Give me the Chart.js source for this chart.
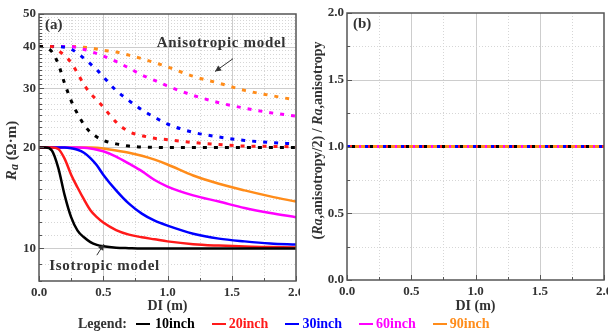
<!DOCTYPE html>
<html>
<head>
<meta charset="utf-8">
<script src="https://cdn.jsdelivr.net/npm/chart.js@4"></script>
<style>
  body { margin: 0; background: #fff; width: 608px; height: 333px; overflow: hidden; position: relative; font-family: "Liberation Serif", serif; }
  #cA { position: absolute; left: 0; top: 0; }
  #cB { position: absolute; left: 304px; top: 0; }
  #legend { position: absolute; left: 78px; top: 314px; height: 20px; display: flex; align-items: center; font-weight: bold; font-size: 14px; color: #333; white-space: nowrap; z-index: 2; }
  #legend .item { display: flex; align-items: center; margin-left: 17px; }
  #legend .item.first { margin-left: 9px; }
  #legend .item.first i { margin-right: 5px; }
  #legend i { display: inline-block; width: 14px; height: 2px; margin-right: 3px; }
</style>
</head>
<body>
<canvas id="cA" width="300" height="315"></canvas>
<canvas id="cB" width="304" height="315"></canvas>
<div id="legend"></div>
<script>
// DI (m)
const DI = [0, 0.05, 0.1, 0.15, 0.2, 0.25, 0.3, 0.35, 0.4, 0.45, 0.5, 0.6, 0.7, 0.8, 0.9, 1.0, 1.2, 1.4, 1.6, 1.8, 2.0];

// isotropic model, Ra (ohm.m)
const iso10 = [20, 20, 19.6, 17.4, 14.4, 12.4, 11.3, 10.8, 10.45, 10.25, 10.15, 10.05, 10.02, 10, 10, 10, 10, 10, 10, 10, 10];
const iso20 = [20, 20, 20, 19.8, 18.5, 16.6, 15.2, 14.0, 13.0, 12.4, 11.95, 11.35, 11.0, 10.8, 10.65, 10.5, 10.3, 10.2, 10.13, 10.1, 10.07];
const iso30 = [20, 20, 20, 20, 20, 19.9, 19.7, 19.3, 18.6, 17.7, 16.6, 14.9, 13.6, 12.7, 12.1, 11.7, 11.07, 10.7, 10.5, 10.35, 10.27];
const iso60 = [20, 20, 20, 20, 20, 20, 20, 19.95, 19.85, 19.7, 19.5, 18.8, 17.9, 17.0, 16.0, 15.3, 14.4, 13.8, 13.2, 12.75, 12.4];
const iso90 = [20, 20, 20, 20, 20, 20, 20, 20, 20, 19.95, 19.85, 19.6, 19.3, 18.9, 18.4, 17.8, 16.5, 15.6, 14.9, 14.3, 13.8];

// anisotropic model, Ra (ohm.m)
const ani10 = [40, 39.8, 38.6, 35.5, 31.0, 27.6, 25.2, 23.4, 22.2, 21.5, 21.0, 20.5, 20.2, 20.05, 20.02, 20, 20, 20, 20, 20, 20];
const ani20 = [40, 40, 40, 38.9, 37.6, 35.8, 33.3, 30.8, 29.0, 27.7, 26.4, 23.8, 22.3, 21.7, 21.3, 21.1, 20.7, 20.4, 20.2, 20.15, 20.1];
const ani30 = [40, 40, 40, 40, 39.8, 39.3, 38.2, 36.9, 35.5, 34.1, 32.5, 29.6, 27.6, 25.9, 24.6, 23.5, 22.2, 21.5, 21.0, 20.7, 20.5];
const ani60 = [40, 40, 40, 40, 40, 40, 39.6, 39.2, 38.7, 38.1, 37.5, 36.1, 34.5, 32.9, 31.7, 30.5, 28.6, 27.2, 26.2, 25.4, 24.8];
const ani90 = [40, 40, 40, 40, 40, 40, 40, 39.8, 39.6, 39.3, 39.0, 38.5, 37.7, 36.8, 35.8, 34.8, 32.6, 31.1, 29.6, 28.6, 27.7];

// panel (b): ratio
const DIb = [0, 2];
const ratio10 = [1.0, 1.0];
const ratio20 = [1.0, 1.0];
const ratio30 = [1.0, 1.0];
const ratio60 = [1.0, 1.0];
const ratio90 = [1.0, 1.0];

const names = ['10inch', '20inch', '30inch', '60inch', '90inch'];
const colors = ['#000000', '#ff1a1a', '#0000ff', '#ff00ff', '#ff8c1a'];

// ticks
const xTicks = [0, 0.25, 0.5, 0.75, 1.0, 1.25, 1.5, 1.75, 2.0];
const xLabels = [0, 0.5, 1.0, 1.5, 2.0];
const yLogLabels = [10, 20, 30, 40, 50];
const yLogTicks = [];
for (let v = 8; v <= 50; v++) yLogTicks.push(v);
const yRatioTicks = [0, 0.25, 0.5, 0.75, 1.0, 1.25, 1.5, 1.75, 2.0];
const yRatioLabels = [0, 0.5, 1.0, 1.5, 2.0];

const FONT = '"Liberation Serif", "Times New Roman", serif';
const INK = '#333';

const pts = (xs, ys) => xs.map((x, i) => ({ x, y: ys[i] }));
const isIn = (arr, v) => arr.some(a => Math.abs(a - v) < 1e-9);

// grid, inside ticks and frame
function framePlugin(xMajor, yMajor) {
  return {
    id: 'frame',
    beforeDatasetsDraw(chart) {
      const { ctx, chartArea: a, scales: { x, y } } = chart;
      ctx.save();
      ctx.lineWidth = 1;
      x.ticks.forEach(t => {
        if (t.value <= x.min || t.value >= x.max) return;
        const px = Math.round(x.getPixelForValue(t.value)) + 0.5;
        const major = isIn(xMajor, t.value);
        ctx.strokeStyle = major ? '#cdcdcd' : '#d6d6d6';
        ctx.setLineDash(major ? [] : [1, 2]);
        ctx.beginPath(); ctx.moveTo(px, a.top); ctx.lineTo(px, a.bottom); ctx.stroke();
      });
      y.ticks.forEach(t => {
        if (t.value <= y.min || t.value >= y.max) return;
        const py = Math.round(y.getPixelForValue(t.value)) + 0.5;
        const major = isIn(yMajor, t.value);
        ctx.strokeStyle = major ? '#cdcdcd' : '#d6d6d6';
        ctx.setLineDash(major ? [] : [1, 2]);
        ctx.beginPath(); ctx.moveTo(a.left, py); ctx.lineTo(a.right, py); ctx.stroke();
      });
      ctx.restore();
    },
    afterDatasetsDraw(chart) {
      const { ctx, chartArea: a, scales: { x, y } } = chart;
      ctx.save();
      ctx.strokeStyle = '#555';
      ctx.lineWidth = 1;
      x.ticks.forEach(t => {
        const px = Math.round(x.getPixelForValue(t.value)) + 0.5;
        const len = isIn(xMajor, t.value) ? 5 : 3;
        ctx.beginPath(); ctx.moveTo(px, a.bottom); ctx.lineTo(px, a.bottom - len); ctx.stroke();
      });
      y.ticks.forEach(t => {
        const py = Math.round(y.getPixelForValue(t.value)) + 0.5;
        const len = isIn(yMajor, t.value) ? 5 : 3;
        ctx.beginPath(); ctx.moveTo(a.left, py); ctx.lineTo(a.left + len, py); ctx.stroke();
      });
      ctx.lineWidth = 1.5;
      ctx.strokeRect(a.left, a.top, a.right - a.left, a.bottom - a.top);
      ctx.restore();
    }
  };
}

// rotated y title with italic parts
function yTitlePlugin(parts, cx, shift) {
  return {
    id: 'ytitle',
    afterDraw(chart) {
      const { ctx, chartArea: a } = chart;
      ctx.save();
      ctx.translate(cx, (a.top + a.bottom) / 2 + (shift || 0));
      ctx.rotate(-Math.PI / 2);
      ctx.fillStyle = INK;
      ctx.textBaseline = 'middle';
      let w = 0;
      parts.forEach(p => { ctx.font = p.font; w += ctx.measureText(p.t).width; });
      let px = -w / 2;
      parts.forEach(p => {
        ctx.font = p.font;
        ctx.fillText(p.t, px, p.dy || 0);
        px += ctx.measureText(p.t).width;
      });
      ctx.restore();
    }
  };
}

function panelLabel(text) {
  return {
    id: 'plabel',
    afterDraw(chart) {
      const { ctx, chartArea: a } = chart;
      ctx.save();
      ctx.font = 'bold 15px ' + FONT;
      ctx.fillStyle = INK;
      ctx.textBaseline = 'middle';
      ctx.fillText(text, a.left + 6, a.top + 11);
      ctx.restore();
    }
  };
}

function arrow(ctx, x1, y1, x2, y2) {
  ctx.beginPath(); ctx.moveTo(x1, y1); ctx.lineTo(x2, y2); ctx.stroke();
  const ang = Math.atan2(y2 - y1, x2 - x1), L = 6, W = 3;
  ctx.beginPath();
  ctx.moveTo(x2, y2);
  ctx.lineTo(x2 - L * Math.cos(ang) + W * Math.sin(ang), y2 - L * Math.sin(ang) - W * Math.cos(ang));
  ctx.lineTo(x2 - L * Math.cos(ang) - W * Math.sin(ang), y2 - L * Math.sin(ang) + W * Math.cos(ang));
  ctx.closePath(); ctx.fill();
}

// text + arrows on panel (a), placed in data units
const notes = [
  { text: 'Anisotropic model', at: [1.42, 41.0], from: [1.51, 36.8], to: [1.37, 33.7] },
  { text: 'Isotropic model', at: [0.51, 8.87], from: [0.45, 9.55], to: [0.505, 10.3] }
];
const notesPlugin = {
  id: 'notes',
  afterDraw(chart) {
    const { ctx, scales: { x, y } } = chart;
    ctx.save();
    ctx.font = 'bold 15px ' + FONT;
    ctx.letterSpacing = '0.7px';
    ctx.fillStyle = INK;
    ctx.strokeStyle = INK;
    ctx.lineWidth = 1;
    ctx.textAlign = 'center';
    ctx.textBaseline = 'middle';
    notes.forEach(n => {
      ctx.fillText(n.text, x.getPixelForValue(n.at[0]), y.getPixelForValue(n.at[1]));
      arrow(ctx, x.getPixelForValue(n.from[0]), y.getPixelForValue(n.from[1]),
        x.getPixelForValue(n.to[0]), y.getPixelForValue(n.to[1]));
    });
    ctx.restore();
  }
};

const tickFont = { family: FONT, size: 13, weight: 'bold' };

function xScale(height) {
  return {
    type: 'linear', min: 0, max: 2,
    grid: { display: false, drawTicks: false },
    border: { display: false },
    afterBuildTicks: s => { s.ticks = xTicks.map(v => ({ value: v })); },
    afterFit: s => { s.height = height; s.paddingLeft = 0; s.paddingRight = 0; },
    ticks: {
      autoSkip: false, maxRotation: 0, padding: 4, color: INK, font: tickFont,
      callback: v => isIn(xLabels, v) ? v.toFixed(1) : ''
    },
    title: { display: true, text: 'DI (m)', color: INK, padding: 0, font: { family: FONT, size: 14, weight: 'bold' } }
  };
}

const isoSets = [iso10, iso20, iso30, iso60, iso90];
const aniSets = [ani10, ani20, ani30, ani60, ani90];

const datasetsA = [];
aniSets.forEach((d, i) => datasetsA.push({
  label: names[i] + ' anisotropic', data: pts(DI, d), borderColor: colors[i],
  borderWidth: 3, borderDash: [4, 7], pointRadius: 0, cubicInterpolationMode: 'monotone'
}));
isoSets.forEach((d, i) => datasetsA.push({
  label: names[i] + ' isotropic', data: pts(DI, d), borderColor: colors[i],
  borderWidth: 2.5, pointRadius: 0, cubicInterpolationMode: 'monotone'
}));

new Chart(document.getElementById('cA'), {
  type: 'line',
  data: { datasets: datasetsA },
  options: {
    responsive: false, animation: false,
    layout: { padding: { top: 14, right: 4, left: 0, bottom: 0 } },
    plugins: { legend: { display: false }, tooltip: { enabled: false } },
    scales: {
      x: xScale(34),
      y: {
        type: 'logarithmic', min: 8, max: 50,
        grid: { display: false, drawTicks: false },
        border: { display: false },
        afterBuildTicks: s => { s.ticks = yLogTicks.map(v => ({ value: v })); },
        afterFit: s => { s.width = 39; s.paddingTop = 0; s.paddingBottom = 0; },
        ticks: {
          autoSkip: false, padding: 3, color: INK, font: tickFont,
          callback: v => isIn(yLogLabels, v) ? String(v) : ''
        }
      }
    }
  },
  plugins: [
    framePlugin(xLabels, yLogLabels),
    yTitlePlugin([
      { t: 'R', font: 'italic bold 15px ' + FONT },
      { t: 'a', font: 'italic bold 12px ' + FONT, dy: 3 },
      { t: ' (Ω·m)', font: 'bold 15px ' + FONT }
    ], 12, 3),
    panelLabel('(a)'),
    notesPlugin
  ]
});

// panel (b): coloured dashes over an orange line
const ratioSets = [ratio10, ratio20, ratio30, ratio60, ratio90];
const dashB = [[3, 15], [2, 16], [3, 15], [2, 16], []];
const dashOffB = [-5, -3, 0, -12, 0];
const datasetsB = ratioSets.map((d, i) => ({
  label: names[i], data: pts(DIb, d), borderColor: colors[i],
  borderWidth: 3, borderDash: dashB[i], borderDashOffset: dashOffB[i], pointRadius: 0
}));

new Chart(document.getElementById('cB'), {
  type: 'line',
  data: { datasets: datasetsB },
  options: {
    responsive: false, animation: false,
    layout: { padding: { top: 13, right: 4, left: 0, bottom: 0 } },
    plugins: { legend: { display: false }, tooltip: { enabled: false } },
    scales: {
      x: xScale(35),
      y: {
        type: 'linear', min: 0, max: 2,
        grid: { display: false, drawTicks: false },
        border: { display: false },
        afterBuildTicks: s => { s.ticks = yRatioTicks.map(v => ({ value: v })); },
        afterFit: s => { s.width = 43; s.paddingTop = 0; s.paddingBottom = 0; },
        ticks: {
          autoSkip: false, padding: 3, color: INK, font: tickFont,
          callback: v => isIn(yRatioLabels, v) ? v.toFixed(1) : ''
        }
      }
    }
  },
  plugins: [
    framePlugin(xLabels, yRatioLabels),
    yTitlePlugin([
      { t: '(', font: 'bold 14px ' + FONT },
      { t: 'Ra', font: 'italic bold 14px ' + FONT },
      { t: ',anisotropy/2) / ', font: 'bold 14px ' + FONT },
      { t: 'Ra', font: 'italic bold 14px ' + FONT },
      { t: ',anisotropy', font: 'bold 14px ' + FONT }
    ], 14, -6),
    panelLabel('(b)')
  ]
});

// legend
const leg = document.getElementById('legend');
leg.innerHTML = '<span>Legend:</span>' + names.map((n, i) =>
  `<span class="item${i === 0 ? ' first' : ''}" style="color:${colors[i]}"><i style="background:${colors[i]}"></i>${n}</span>`).join('');
</script>
</body>
</html>
